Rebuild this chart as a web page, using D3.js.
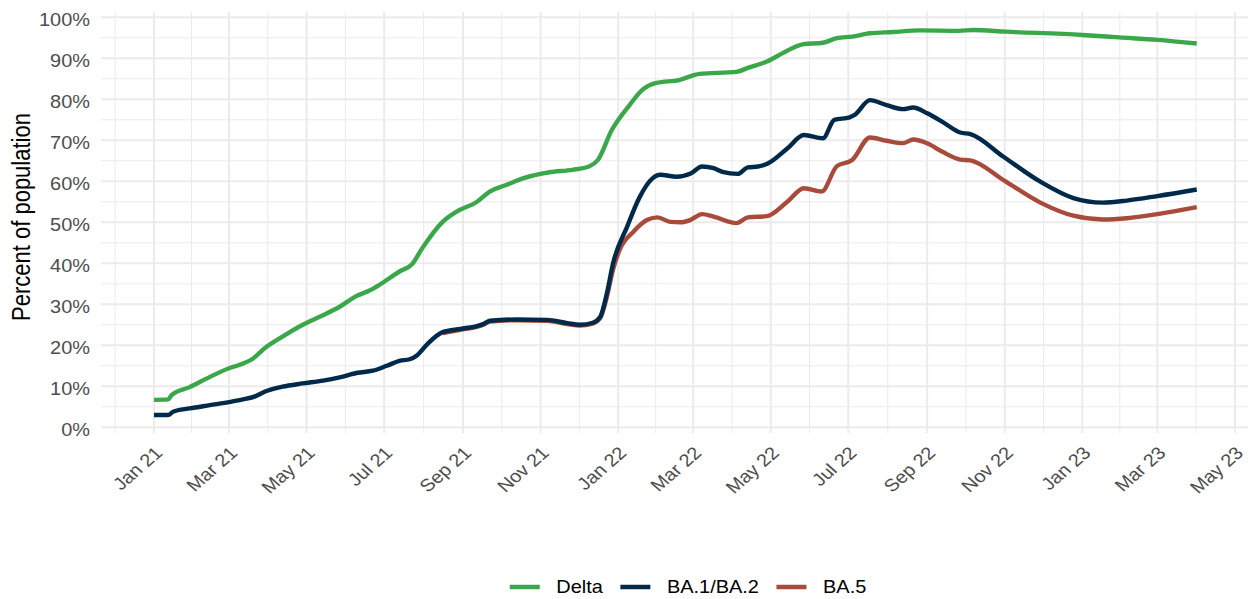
<!DOCTYPE html>
<html>
<head>
    <meta charset="utf-8">
    <script src="https://cdnjs.cloudflare.com/ajax/libs/d3/7.8.5/d3.min.js"></script>
    <title>Percent of population</title>
    <style>
        body { margin: 0; background: #fff; }
        text { font-family: "Liberation Sans", Arial, sans-serif; }
    </style>
</head>
<body>
<script>
    // series (percent of population)
    var deltaDates = ["2021-01-01","2021-01-12","2021-01-15","2021-01-29","2021-02-14","2021-03-01","2021-03-09","2021-03-19","2021-03-30","2021-04-12","2021-04-28","2021-05-13","2021-05-27","2021-06-09","2021-06-19","2021-06-27","2021-07-13","2021-07-23","2021-07-31","2021-08-16","2021-08-27","2021-09-12","2021-09-22","2021-10-05","2021-10-18","2021-11-08","2021-11-26","2021-12-09","2021-12-16","2021-12-27","2022-01-10","2022-01-20","2022-01-31","2022-02-18","2022-03-06","2022-04-04","2022-04-14","2022-04-28","2022-05-10","2022-05-26","2022-06-11","2022-06-22","2022-07-04","2022-07-18","2022-08-05","2022-08-26","2022-09-26","2022-10-07","2022-11-02","2023-01-01","2023-01-30","2023-03-01","2023-04-01"];
    var deltaPct = [6.7,6.8,7.9,9.8,12.3,14.4,15.2,16.6,19.5,22.1,25.0,27.2,29.4,32.0,33.3,34.7,38.0,39.8,43.7,50.1,52.6,55.0,57.5,59.1,60.7,62.2,62.8,63.6,65.2,72.5,78.6,82.3,84.0,84.7,86.2,86.7,87.8,89.2,91.2,93.4,93.8,94.9,95.3,96.1,96.4,96.8,96.7,96.9,96.5,95.7,95.1,94.5,93.6];

    var ba12Dates = ["2021-01-01","2021-01-12","2021-01-16","2021-01-29","2021-02-14","2021-03-02","2021-03-12","2021-03-21","2021-03-31","2021-04-12","2021-04-28","2021-05-14","2021-05-27","2021-06-10","2021-06-22","2021-07-03","2021-07-13","2021-07-21","2021-07-27","2021-08-04","2021-08-16","2021-08-30","2021-09-12","2021-09-17","2021-09-22","2021-10-13","2021-11-06","2021-11-22","2021-12-02","2021-12-12","2021-12-18","2021-12-23","2021-12-28","2022-01-08","2022-01-18","2022-01-28","2022-02-03","2022-02-16","2022-02-27","2022-03-08","2022-03-17","2022-03-24","2022-04-05","2022-04-13","2022-04-21","2022-04-29","2022-05-14","2022-05-27","2022-06-11","2022-06-20","2022-07-02","2022-07-06","2022-07-18","2022-07-31","2022-08-13","2022-08-21","2022-09-01","2022-09-13","2022-09-27","2022-10-05","2022-10-31","2022-11-29","2022-12-25","2023-01-17","2023-02-05","2023-03-01","2023-04-01"];
    var ba12Pct = [3.0,3.0,3.8,4.6,5.4,6.2,6.8,7.5,8.9,9.9,10.7,11.4,12.2,13.3,13.8,15.0,16.2,16.6,17.6,20.3,23.2,24.0,24.7,25.2,26.0,26.3,26.2,25.4,25.0,25.5,27.0,32.5,40.0,48.9,56.2,60.7,61.6,61.1,61.9,63.6,63.2,62.3,61.8,63.4,63.6,64.4,68.0,71.3,70.5,75.0,75.6,76.2,79.8,78.6,77.6,78.0,76.6,74.5,71.9,71.5,66.0,59.9,55.9,54.8,55.3,56.4,58.0];

    var ba5Dates = ["2021-08-16","2021-08-30","2021-09-12","2021-09-17","2021-09-22","2021-10-13","2021-11-06","2021-11-22","2021-12-02","2021-12-12","2021-12-18","2021-12-23","2021-12-28","2022-01-02","2022-01-13","2022-01-24","2022-02-01","2022-02-11","2022-02-19","2022-02-27","2022-03-08","2022-03-17","2022-04-04","2022-04-13","2022-04-28","2022-05-14","2022-05-27","2022-06-10","2022-06-22","2022-07-04","2022-07-18","2022-07-31","2022-08-13","2022-08-21","2022-09-01","2022-09-13","2022-09-27","2022-10-05","2022-10-31","2022-11-29","2022-12-25","2023-01-17","2023-02-05","2023-03-01","2023-04-01"];
    var ba5Pct = [23.0,23.8,24.5,25.0,25.8,26.1,26.0,25.2,24.8,25.3,26.7,31.7,38.5,43.2,47.7,50.6,51.2,50.1,50.0,50.6,52.0,51.4,49.8,51.2,51.5,55.0,58.3,57.5,63.7,65.2,70.7,69.9,69.3,70.2,69.3,67.2,65.3,65.1,60.3,54.8,51.6,50.7,51.0,52.0,53.7];

    var seriesNames = ["Delta", "BA.1/BA.2", "BA.5"];
    var seriesColors = ["#3aa84a", "#012a4a", "#a94b3b"];
    var yTicks = [0, 10, 20, 30, 40, 50, 60, 70, 80, 90, 100];

    var W = 1248, H = 599;
    var panel = { left: 101, right: 1248, top: 12, bottom: 433 };
    var SX = 1.14; // text in the picture is a little stretched sideways

    var parse = d3.utcParse("%Y-%m-%d");

    function build(dates, vals) {
        return dates.map(function(d, i) { return { date: parse(d), value: vals[i] }; });
    }
    var series = [
        build(deltaDates, deltaPct),
        build(ba12Dates, ba12Pct),
        build(ba5Dates, ba5Pct)
    ];

    var x = d3.scaleUtc()
        .domain([parse("2020-11-20"), parse("2023-05-12")])
        .range([100.6, 1248.9]);
    var y = d3.scaleLinear().domain([0, 100]).range([427.3, 17.3]);

    var svg = d3.select("body").append("svg")
        .attr("width", W).attr("height", H);

    svg.append("rect").attr("width", W).attr("height", H).attr("fill", "#fff");

    svg.append("clipPath").attr("id", "pclip").append("rect")
        .attr("x", panel.left).attr("y", panel.top)
        .attr("width", panel.right - panel.left).attr("height", panel.bottom - panel.top);

    var grid = svg.append("g").attr("clip-path", "url(#pclip)");

    // horizontal grid
    var yMinor = d3.range(5, 100, 10);
    grid.selectAll("line.hmin").data(yMinor).enter().append("line")
        .attr("x1", panel.left).attr("x2", panel.right)
        .attr("y1", function(d) { return y(d); }).attr("y2", function(d) { return y(d); })
        .attr("stroke", "#ebebeb").attr("stroke-width", 1);
    grid.selectAll("line.hmaj").data(yTicks).enter().append("line")
        .attr("x1", panel.left).attr("x2", panel.right)
        .attr("y1", function(d) { return y(d); }).attr("y2", function(d) { return y(d); })
        .attr("stroke", "#ebebeb").attr("stroke-width", 2);

    // vertical grid
    var xMajor = d3.utcMonth.every(2).range(parse("2020-11-01"), parse("2023-08-01"));
    var xMinor = [];
    for (var i = 0; i < xMajor.length - 1; i++) {
        xMinor.push(new Date((+xMajor[i] + +xMajor[i + 1]) / 2));
    }
    grid.selectAll("line.vmin").data(xMinor).enter().append("line")
        .attr("y1", panel.top).attr("y2", panel.bottom)
        .attr("x1", function(d) { return x(d); }).attr("x2", function(d) { return x(d); })
        .attr("stroke", "#ebebeb").attr("stroke-width", 1);
    grid.selectAll("line.vmaj").data(xMajor).enter().append("line")
        .attr("y1", panel.top).attr("y2", panel.bottom)
        .attr("x1", function(d) { return x(d); }).attr("x2", function(d) { return x(d); })
        .attr("stroke", "#ebebeb").attr("stroke-width", 2);

    // lines: Delta, then BA.5, then BA.1/BA.2 on top
    var line = d3.line()
        .x(function(d) { return x(d.date); })
        .y(function(d) { return y(d.value); })
        .curve(d3.curveMonotoneX);

    [0, 2, 1].forEach(function(k) {
        svg.append("path")
            .datum(series[k])
            .attr("d", line)
            .attr("fill", "none")
            .attr("stroke", seriesColors[k])
            .attr("stroke-width", 4.4)
            .attr("stroke-linejoin", "round")
            .attr("stroke-linecap", "butt");
    });

    // y axis
    var yAxis = svg.append("g")
        .attr("transform", "translate(" + panel.left + ",0)")
        .call(d3.axisLeft(y).tickValues(yTicks).tickSize(0)
            .tickFormat(function(d) { return d + "%"; }));
    yAxis.select(".domain").remove();
    yAxis.selectAll("text")
        .attr("x", null).attr("dy", null)
        .attr("transform", "translate(-11,8) scale(" + SX + ",1)")
        .attr("text-anchor", "end")
        .attr("fill", "#4d4d4d")
        .style("font-size", "17.5px")
        .style("font-family", "'Liberation Sans', Arial, sans-serif");

    // x axis
    var xLabelTicks = d3.utcMonth.every(2).range(parse("2021-01-01"), parse("2023-06-01"));
    var xAxis = svg.append("g")
        .attr("transform", "translate(0," + panel.bottom + ")")
        .call(d3.axisBottom(x).tickValues(xLabelTicks).tickSize(0)
            .tickFormat(d3.utcFormat("%b %y")));
    xAxis.select(".domain").remove();
    xAxis.selectAll("text")
        .attr("y", null).attr("dy", null)
        .attr("transform", "translate(9,21) scale(" + SX + ",1) rotate(-45)")
        .attr("text-anchor", "end")
        .attr("fill", "#4d4d4d")
        .style("font-size", "17.5px")
        .style("font-family", "'Liberation Sans', Arial, sans-serif");

    // y title
    svg.append("text")
        .attr("transform", "translate(30,217) scale(" + SX + ",1) rotate(-90)")
        .attr("text-anchor", "middle")
        .attr("fill", "#000")
        .style("font-size", "22px")
        .text("Percent of population");

    // legend
    var legend = svg.append("g");
    var legY = 587, keyW = 30, keyGap = 16.6, itemGap = 17.5;
    var items = legend.selectAll("g").data(seriesNames).enter().append("g");
    items.append("line")
        .attr("x1", 0).attr("x2", keyW).attr("y1", legY).attr("y2", legY)
        .attr("stroke", function(d, i) { return seriesColors[i]; })
        .attr("stroke-width", 4.5);
    items.append("text")
        .attr("transform", "translate(" + (keyW + keyGap) + "," + (legY + 6) + ") scale(" + SX + ",1)")
        .attr("fill", "#000")
        .style("font-size", "17.5px")
        .text(function(d) { return d; });
    var widths = [];
    items.select("text").each(function() { widths.push(this.getComputedTextLength() * SX); });
    var total = 0, offs = [];
    widths.forEach(function(w, i) {
        offs.push(total);
        total += keyW + keyGap + w + (i < widths.length - 1 ? itemGap : 0);
    });
    var legStart = 688 - total / 2;
    items.attr("transform", function(d, i) { return "translate(" + (legStart + offs[i]) + ",0)"; });
</script>
</body>
</html>
